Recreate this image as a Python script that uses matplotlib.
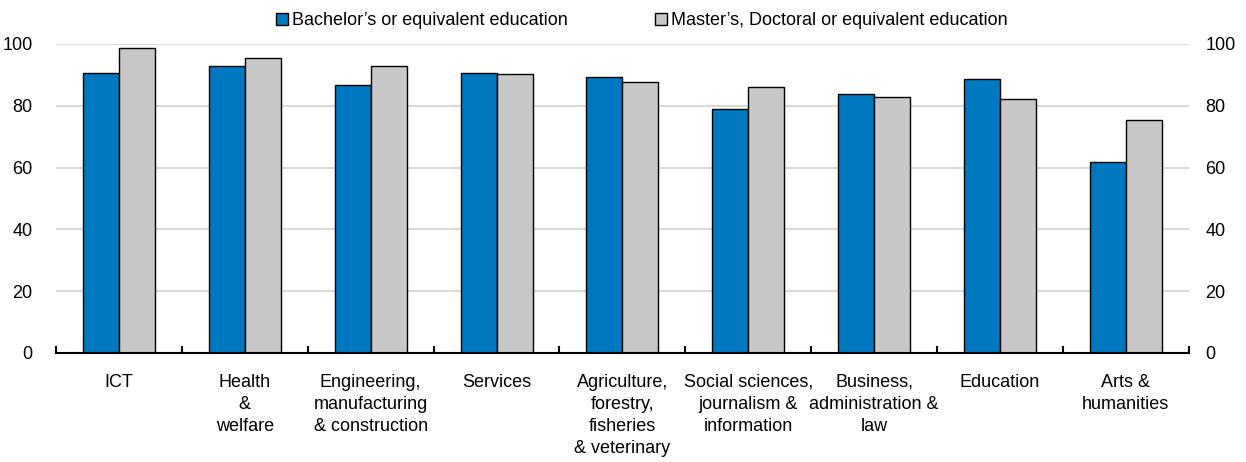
import matplotlib.pyplot as plt
import numpy as np

plt.rcParams["font.family"] = ["Liberation Sans", "DejaVu Sans"]

categories = [
    "ICT",
    "Health\n&\nwelfare",
    "Engineering,\nmanufacturing\n& construction",
    "Services",
    "Agriculture,\nforestry,\nfisheries\n& veterinary",
    "Social sciences,\njournalism &\ninformation",
    "Business,\nadministration &\nlaw",
    "Education",
    "Arts &\nhumanities",
]
bachelor = [90.5, 92.7, 86.7, 90.5, 89.2, 79.0, 83.9, 88.6, 61.8]
master = [98.8, 95.3, 92.8, 90.2, 87.7, 86.2, 82.8, 82.1, 75.3]
yticks = [0, 20, 40, 60, 80, 100]

blue = "#0078BF"
grey = "#C8C8C8"
fs = 13

fig = plt.figure(figsize=(12.46, 4.62), dpi=100)
ax = fig.add_axes([0.045, 0.236, 0.909, 0.669])

x = np.arange(len(categories)) + 0.5
w = 0.286
ax.bar(x - w / 2, bachelor, w, color=blue, edgecolor="black", linewidth=1.0,
       label="Bachelor\u2019s or equivalent education", zorder=3)
ax.bar(x + w / 2, master, w, color=grey, edgecolor="black", linewidth=1.0,
       label="Master\u2019s, Doctoral or equivalent education", zorder=3)

ax.set_xlim(0, len(categories))
ax.set_ylim(0, 100)
ax.set_yticks(yticks)
ax.grid(axis="y", color="#D9D9D9", linewidth=1.5, zorder=0)
ax.set_axisbelow(True)

for s in ["left", "right", "top"]:
    ax.spines[s].set_visible(False)
ax.spines["bottom"].set_linewidth(1.5)
ax.spines["bottom"].set_zorder(4)

ax.set_xticks(x)
ax.set_xticklabels(categories, fontsize=fs, linespacing=1.4, va="top")
ax.set_xticks(np.arange(len(categories) + 1), minor=True)
ax.tick_params(axis="x", which="major", length=0, pad=15)
ax.tick_params(axis="x", which="minor", direction="in", length=5, width=1.5)
ax.tick_params(axis="y", length=0, labelsize=fs, pad=17)

ax2 = ax.twinx()
ax2.set_ylim(0, 100)
ax2.set_yticks(yticks)
ax2.tick_params(axis="y", length=0, labelsize=fs, pad=12)
for s in ["left", "right", "top", "bottom"]:
    ax2.spines[s].set_visible(False)

ax.legend(loc="lower center", bbox_to_anchor=(0.517, 1.0), ncol=2, frameon=False,
          fontsize=fs, handlelength=0.7, handleheight=0.7, handletextpad=0.2,
          columnspacing=4.8, borderaxespad=0.4)

fig.savefig("out.png", dpi=100)
